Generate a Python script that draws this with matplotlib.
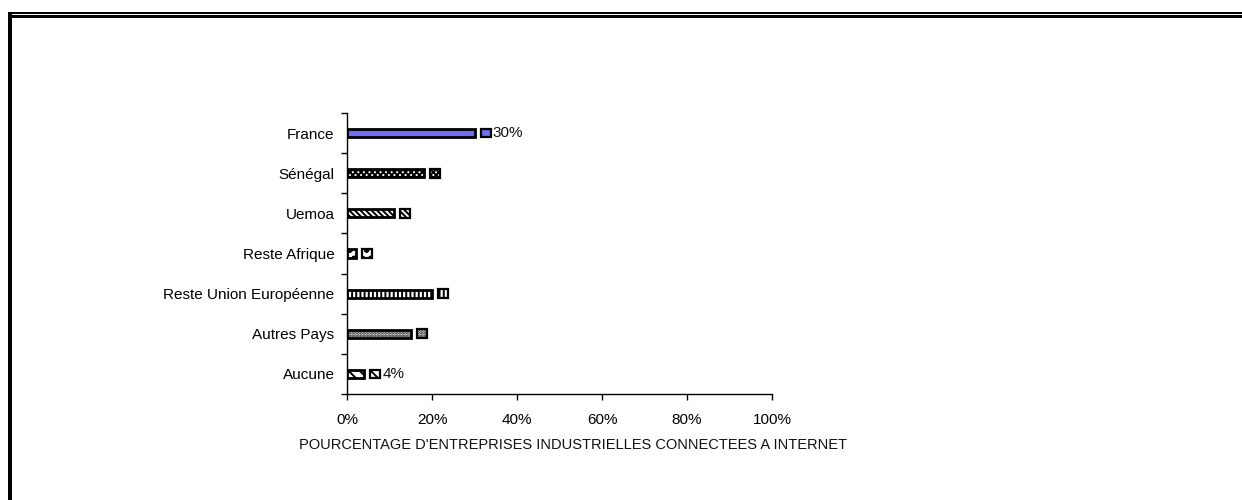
import matplotlib
matplotlib.use("Agg")
import matplotlib.pyplot as plt
from matplotlib.patches import Rectangle
from matplotlib.ticker import FixedLocator, PercentFormatter

plt.rcParams['font.family'] = ['Liberation Sans', 'DejaVu Sans']
plt.rcParams['hatch.linewidth'] = 1.4

# Share (%) of industrial firms connected to the Internet, by partner zone
categories = ["France", "Sénégal", "Uemoa", "Reste Afrique",
              "Reste Union Européenne", "Autres Pays", "Aucune"]
values = [30, 18, 11, 2, 20, 15, 4]
shown_labels = ["30%", "", "", "", "", "", "4%"]
x_ticks = [0, 20, 40, 60, 80, 100]
x_title = "POURCENTAGE D'ENTREPRISES INDUSTRIELLES CONNECTEES A INTERNET"

# fill style per bar
faces = ["#6e6ef2", "white", "white", "white", "white", "white", "white"]
hatches = [None, "xxxxxx", "\\\\\\\\\\\\", "oo", "||||", "......", "\\\\\\"]

W, H = 1242, 500
fig = plt.figure(figsize=(W / 100, H / 100), dpi=100)
fig.patch.set_facecolor("white")

# frame: double rule on top, heavy rule on the left
fig.add_artist(Rectangle((9 / W, 1 - 14 / H), 1, 2 / H, transform=fig.transFigure,
                         color="black", lw=0))
fig.add_artist(Rectangle((12 / W, 1 - 17.5 / H), 1, 2.5 / H, transform=fig.transFigure,
                         color="black", lw=0))
fig.add_artist(Rectangle((8 / W, 0), 4 / W, 1 - 12 / H, transform=fig.transFigure,
                         color="black", lw=0))

ax = fig.add_axes([347 / W, 1 - 394 / H, (772 - 347) / W, (394 - 113) / H])

ypos = list(range(len(categories)))
bars = ax.barh(ypos, values, height=0.2, color=faces, edgecolor="black",
               linewidth=2.0)
for b, h in zip(bars, hatches):
    if h:
        b.set_hatch(h)

# legend key square and value label next to each bar
gap = 1.5
key_w = 2.3
key_h = 0.22
for y, v, f, h, lab in zip(ypos, values, faces, hatches, shown_labels):
    key = Rectangle((v + gap, y - key_h / 2), key_w, key_h, facecolor=f,
                    edgecolor="black", linewidth=1.6, hatch=h, clip_on=False)
    ax.add_patch(key)
    if lab:
        ax.text(v + gap + key_w + 0.5, y, lab, va="center", ha="left",
                fontsize=11, color="#111111")

ax.set_xlim(0, 100)
ax.set_ylim(len(categories) - 0.5, -0.5)
ax.xaxis.set_major_locator(FixedLocator(x_ticks))
ax.xaxis.set_major_formatter(PercentFormatter(decimals=0))
ax.set_yticks(ypos)
ax.set_yticklabels(categories)
ax.yaxis.set_minor_locator(FixedLocator([i - 0.5 for i in range(len(categories) + 1)]))
ax.tick_params(axis="y", which="major", length=0, pad=9, labelsize=11)
ax.tick_params(axis="y", which="minor", length=4, width=1, direction="out")
ax.tick_params(axis="x", which="major", length=4, width=1, direction="out",
               pad=10, labelsize=11)

for s in ("top", "right"):
    ax.spines[s].set_visible(False)
for s in ("left", "bottom"):
    ax.spines[s].set_linewidth(1)

fig.text(573 / W, 1 - 445 / H, x_title, ha="center", va="center", fontsize=10.5,
         color="#111111")

fig.savefig("out.png", dpi=100, facecolor="white")
